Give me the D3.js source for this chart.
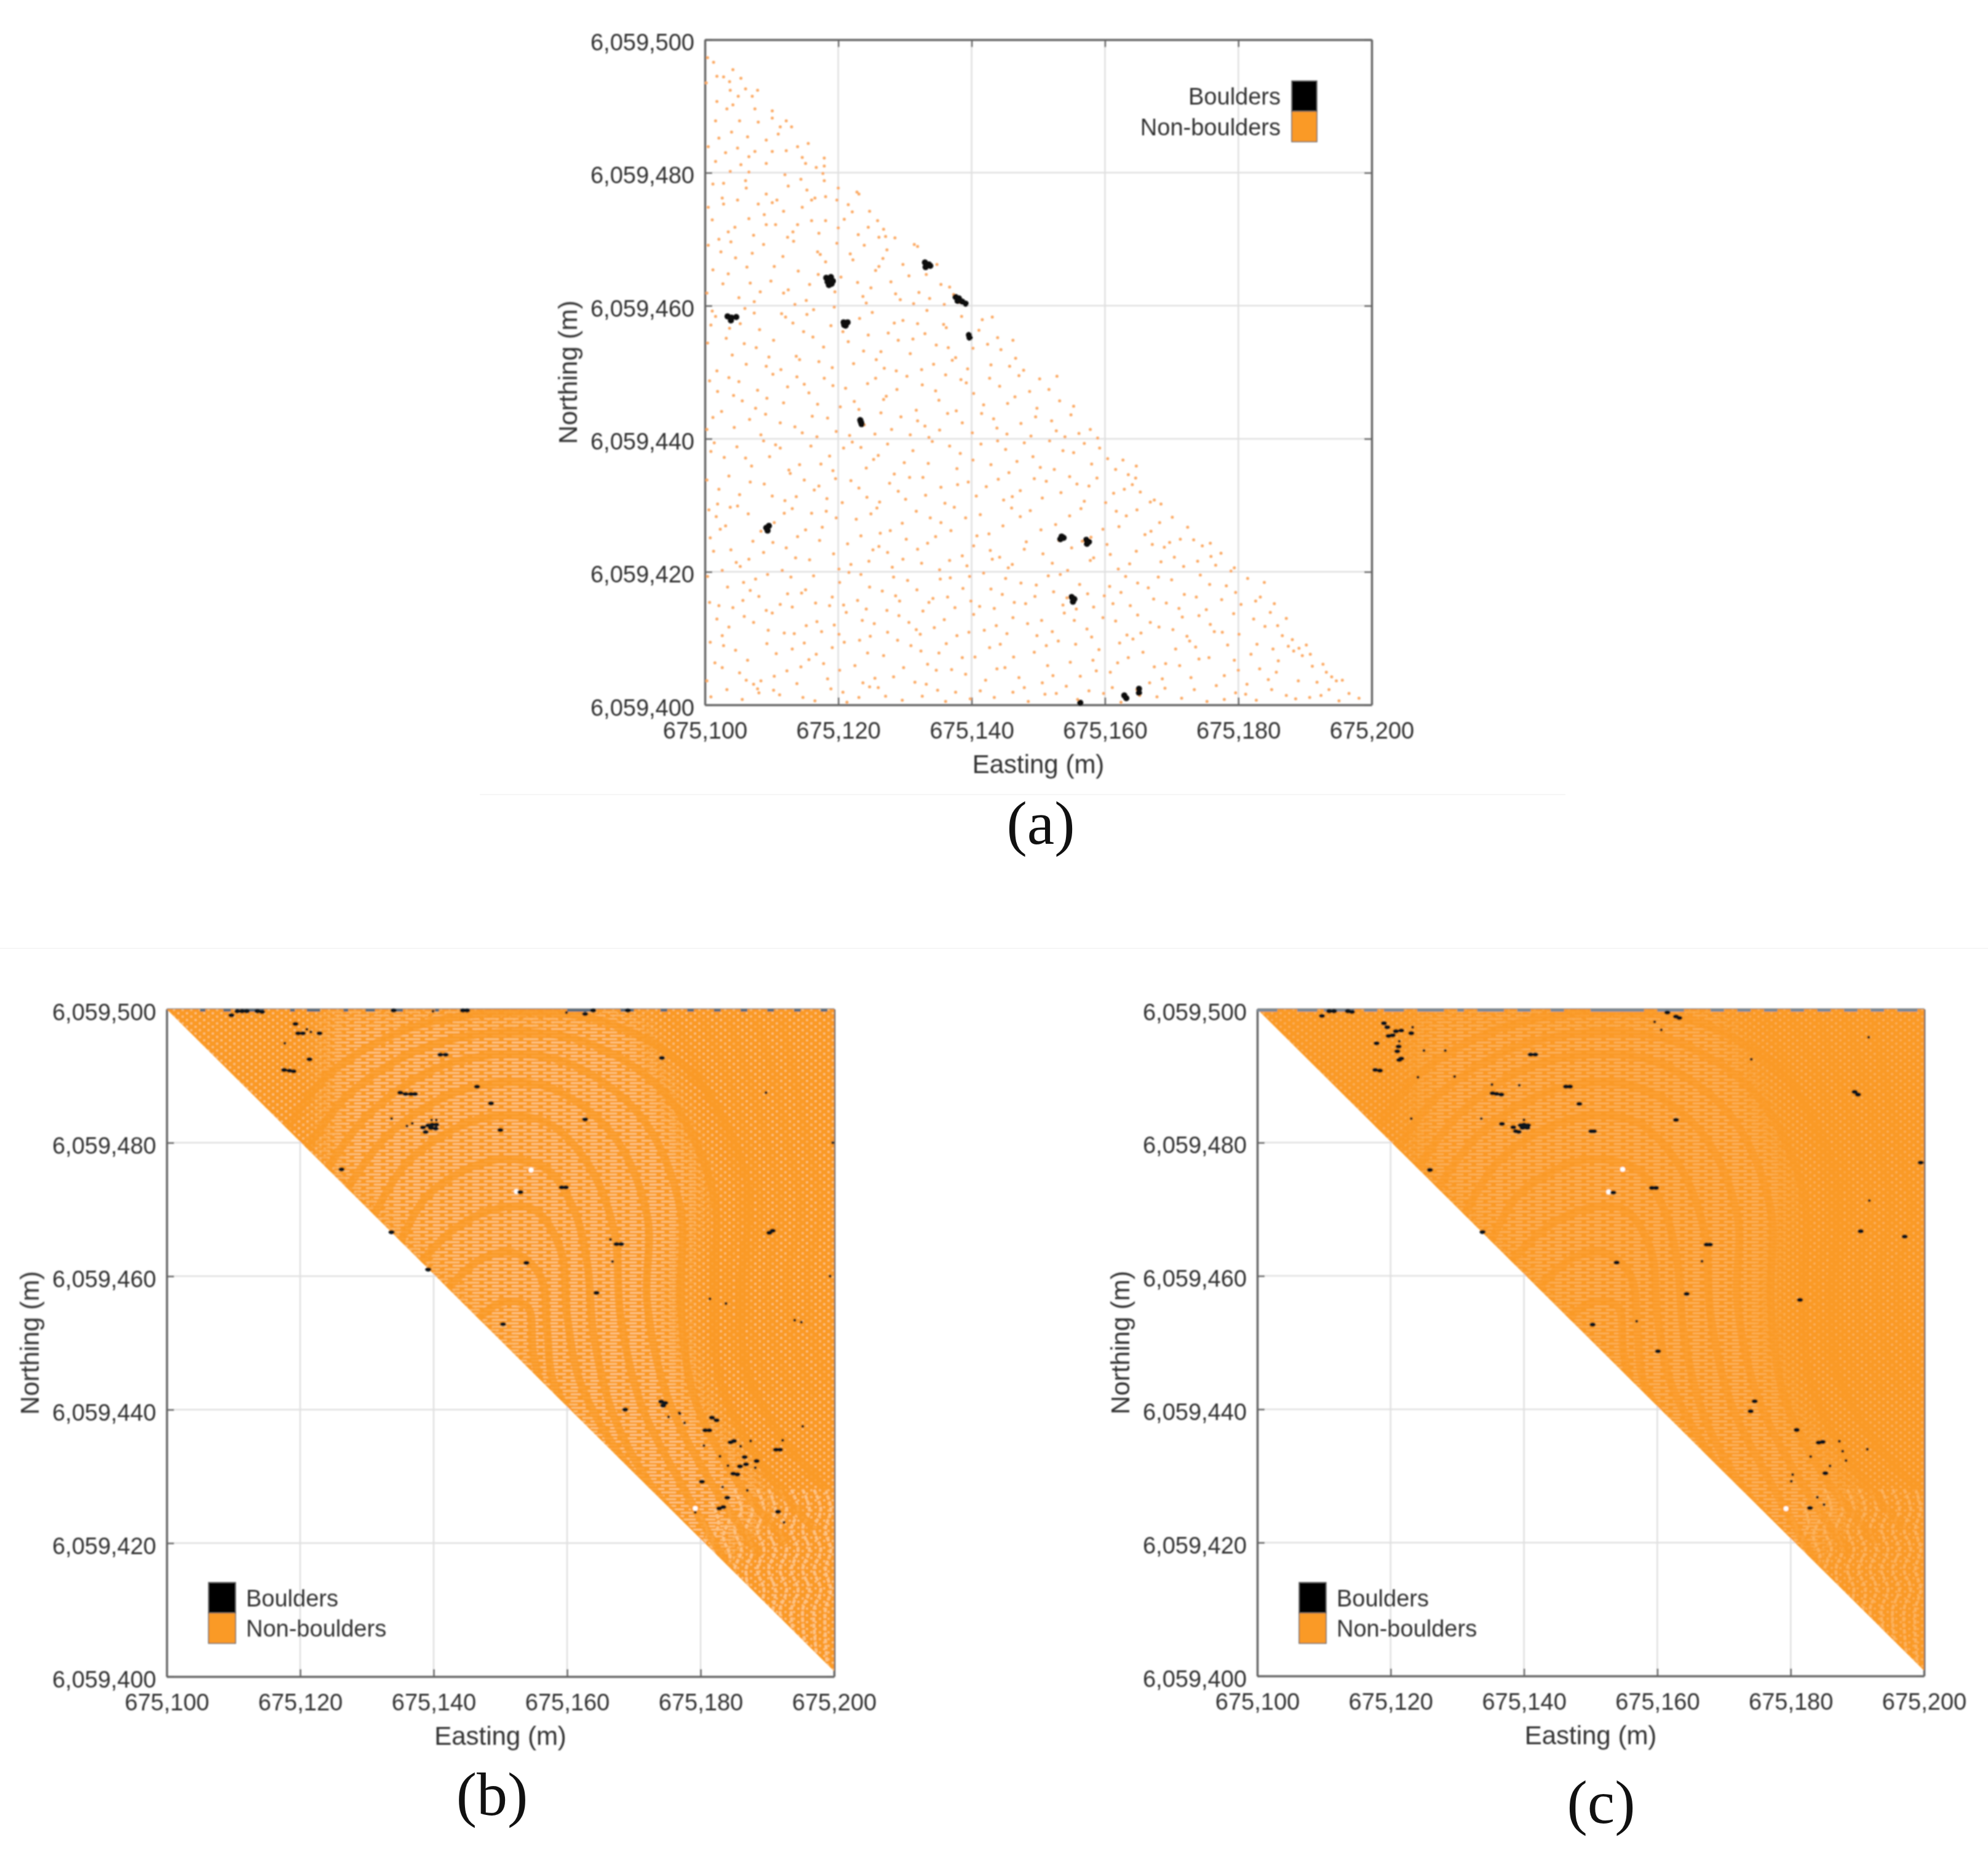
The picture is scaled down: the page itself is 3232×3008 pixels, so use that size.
<!DOCTYPE html>
<html>
<head>
<meta charset="utf-8">
<script src="https://cdnjs.cloudflare.com/ajax/libs/d3/7.8.5/d3.min.js"></script>
<style>
    html, body { margin: 0; background: #fff; }
    text { font-family: "Liberation Sans", Arial, sans-serif; fill: #333; }
    .panel-label { font-family: "Liberation Serif", serif; fill: #111; }
</style>
</head>
<body>
<svg id="chart" width="3232" height="3008"></svg>
<script>
// Axis values
const eastingBase = 675100;
const northingBase = 6059400;
const eastingTicks = [675100, 675120, 675140, 675160, 675180, 675200];
const northingTicks = [6059400, 6059420, 6059440, 6059460, 6059480, 6059500];
const legendLabels = ["Boulders", "Non-boulders"];
const panelLabels = ["(a)", "(b)", "(c)"];

// All points below are metres from the lower left corner: east, north, east, north...
// Panel (a) is a hand read subset of the sparse samples.
const nonBouldersA = [
    0.4,97.3, 1.3,96.6, 4.2,95.5, 1.8,94.5, 2.8,94.4, 5.4,94.2, 0.2,93.5, 3.7,93.7, 3.8,92.4, 6.1,92.6, 7.9,92.4, 7.1,91.5, 5,91.5, 1.8,90.7, 4.2,90.2,
    3.3,89.6, 7.5,89.6, 10.1,89.3, 1.6,87.8, 5.2,87.8, 8,87.6, 10.1,88.2, 12.2,87.8, 11.3,86.9, 13,86.9, 4,86.1, 6.4,85.4, 9.2,84.9, 0.5,83.9, 15.5,84.4, 13.9,83.9, 4.9,83.7, 7.5,83.2, 10.1,83.2, 12.2,83.3, 17.9,82.2, 1.6,81.7, 9.2,81.4, 5.4,81.2, 15.1,81.4, 16.7,80.8, 17.9,81, 3.8,80.2, 6.6,80.1, 2.1,85.2, 11,85.8, 3.1,83, 6.6,82.4, 14.6,82.3,
    12,79.7, 17.7,79.9, 17.9,78.8, 14.4,79, 2.8,78.4, 1.2,78.3, 6.2,77.7, 12.5,78, 20,77.7, 22.8,77.1, 9.2,76.8, 2.6,76.2, 16,75.9, 10.8,75.9, 0.5,74.8, 2.8,75.3, 4.9,75.9, 8,75.3, 10.1,75.5, 14.6,74.8, 16.5,76.2, 18.1,76.4, 19.8,75.9, 23.1,76.8, 24.7,74.2, 25.9,72.8, 20,71.7, 24.5,71.8, 26.8,71.5, 28.5,70.2, 27.1,70.4, 18.1,72.8, 16,72.8, 13.9,72.2, 13.2,71.1, 9.2,72.2, 10.6,72.2, 4.5,71.8, 3.5,71.1, 2.1,70, 6.6,73.1, 8.9,73.7, 20.9,73, 23,70.7, 1.1,72.9, 6.1,78.8, 21.5,75.2, 15.3,77.4, 11.8,74.2, 7.3,70.6, 12.4,70.3, 17.1,70.9, 22.1,74.1, 26.1,70.3,
    0.5,69.1, 3.9,69.6, 4.6,67.2, 8.8,69.2, 6.3,65.8, 1.2,65.4, 11.7,67.4, 13.3,69.7, 14,65.2, 9.9,63.7, 16.9,68.1, 17.3,67.7, 19.8,69.4, 20.4,64.3, 22.2,66.9, 23.9,69.1, 25.6,65.3, 26.1,65.9, 27.3,68.4, 29.7,66.2, 31.4,69.2, 31.9,68.9, 33.2,64.7, 35.4,63.2, 36.7,62.8, 0.3,61.9, 2.7,63.3, 5.1,61.2, 7.4,60.6, 11.8,61.9, 12.5,62.4, 15.2,60.8, 18.8,63.4, 19.5,62.1, 23.7,61.4, 24.2,60.4, 27.9,63.6, 29.3,60.9, 32.1,62, 33.7,61.1, 38.1,60.5, 35.9,60.2, 28.6,61.8, 6.8,63.4, 17,64.7,
    1.1,59.2, 1.6,58.4, 5.3,57.3, 6,59.6, 8.2,56.4, 11.5,58.8, 12.1,58.3, 14.8,56.1, 16.3,59.4, 18.9,57, 19.4,59.8, 23.2,58.1, 24.5,55.6, 25.1,59, 28.4,57.4, 29.7,57.8, 31.2,55, 33.3,59.3, 35.8,57.2, 36.2,56.7, 38.5,58.4, 41.1,56.3, 41.6,57.9, 43.9,55.2, 0.4,54.4, 3.2,55.1, 4.1,52.6, 7.7,53.7, 9.2,50.9, 10.3,54.8, 13.7,52.4, 14.2,51.9, 17.8,53.8, 21.5,54.6, 22.3,51.3, 26.4,53.1, 26.9,50.6, 30.8,52.8, 32.5,50.4, 34.7,54.1, 37.1,51.8, 37.6,52.2, 40.2,53.6, 42.9,51.1, 44.4,53.4, 46.6,52.1, 47.8,50.3, 1.8,50.2, 6.2,51.2, 19.1,50.7, 29,54.8, 39.4,50.5, 16.2,55.3, 45.7,50.9,
    0.7,48.7, 3.6,49.2, 4.3,46.5, 7.9,47.3, 10.2,49.7, 11.8,45.4, 12.4,47.8, 15.6,46.9, 17.9,49.1, 20.3,44.8, 21.1,47.6, 24.4,48.3, 26.8,45.9, 27.2,46.4, 30.3,49.4, 31.7,44.3, 34.6,47.2, 35.1,45.8, 38.4,48.9, 39.2,48.4, 41.8,45.1, 44.2,47.9, 46.5,46.3, 47.1,49.5, 49.8,44.6, 51.6,47.4, 53.2,45.7, 0.3,41.4, 2.5,44.1, 6.7,42.9, 8.4,40.6, 9.1,43.7, 13.5,41.8, 16.1,43.4, 16.8,40.3, 19.7,41.1, 23.2,42.6, 23.9,42.1, 25.5,40.7, 29.4,43.3, 33,41.9, 33.6,40.2, 36.4,43.8, 40.1,40.9, 43.3,43, 43.8,41.6, 47.4,42.3, 48.9,40.4, 52,42.7, 52.7,41.2, 54.9,43.6, 56.1,40.8, 57.8,41.4, 5.6,45.7, 14.9,48.2, 28,41.4, 37.7,44.2, 50.2,49, 22.4,45.6,
    1.4,39.4, 2.9,37.2, 4.8,38.8, 7,35.9, 10.6,39.1, 11.3,38.6, 14.2,36.1, 15.9,38.9, 18.7,37.4, 19.2,35.2, 22.1,39.5, 25.3,36.9, 26,37.5, 28.4,34.7, 31.2,38.2, 33.5,36.3, 34.1,39.6, 37.8,35.5, 38.3,37.8, 41.4,39.2, 42.9,36.1, 45.1,38.4, 45.6,34.9, 49.2,37.3, 51.7,39.7, 52.4,35.4, 55.3,37.9, 58,36.2, 59.2,38.6, 60.4,37, 62.7,36.8, 63.5,34.6, 0.3,33.8, 3.6,34.4, 5.2,31.6, 8.9,33.2, 12,30.7, 12.8,34.8, 16.4,32.3, 17.1,32.9, 20.6,30.4, 21.9,33.7, 24.3,31.2, 27.7,33.3, 30.1,30.9, 30.7,34.2, 35.4,32.7, 36,30.3, 39.5,33.5, 40.7,31.4, 44,33.9, 44.8,30.8, 47.3,32.2, 50.6,31.1, 51.2,33.6, 54.7,34.3, 56.9,30.6, 57.6,32.9, 61.3,31.8, 64.1,33.1, 64.6,34.1, 66.8,30.5, 67.4,30.8, 1.9,30.2, 9.7,37.3, 23.4,38.7, 47.9,39.4, 13.7,31.3, 65.3,32, 19.6,34, 55.8,33.2,
    0.6,29.3, 2.3,26.4, 3.1,26.9, 6.5,28.7, 7.2,24.6, 10.4,27.4, 13.1,29.5, 13.9,25.3, 17.6,26.7, 18.2,29.1, 21.4,24.2, 22.7,27.9, 25.8,29.6, 26.3,25.8, 29.6,27.3, 30.2,24.9, 33.8,28.1, 36.9,26.2, 37.4,29.7, 40.8,25.4, 41.3,28.6, 44.7,26.9, 48.2,24.5, 48.8,29.2, 52.6,27.1, 53.1,24.7, 56.4,29.5, 59.7,26.4, 60.3,24.1, 63.2,28.4, 66,25.6, 66.9,26.1, 70.1,28.2, 72.4,26.7, 73.3,24.8, 74.6,23.9, 1.3,23.1, 4.7,21.4, 5.3,20.8, 8.8,22.9, 11.6,20.2, 12.2,23.6, 15.7,21.8, 19.3,22.7, 20.1,20.4, 24.6,21.6, 27.4,22.9, 28.1,20.7, 31.9,23.4, 32.5,21.3, 35.2,20.3, 38.6,22.4, 39.3,20.9, 42.8,23.2, 45.5,20.6, 46.1,21.1, 50.7,22.7, 54.4,20.2, 55,23.6, 57.8,21.7, 58.3,22.1, 62,20.4, 64.7,23.1, 68.4,21.5, 68.9,23.7, 71.8,20.8, 75.9,22.3, 76.6,21, 78.9,20.1, 79.4,20.6, 9.6,26.2, 34.6,25.3, 47.3,28.3, 61.7,29.1, 16,28.8, 43.1,21.9, 25.2,23.3, 69.7,24.4, 3.8,29.7,
    0.4,19.3, 0.7,15.4, 3.4,17.7, 4.2,14.6, 7.6,18.9, 8.1,16.3, 11.3,15.1, 12.9,19.2, 14.5,16.8, 15.1,17.3, 18.7,14.9, 20.2,18.4, 22.9,15.7, 23.4,19.6, 26.6,17.1, 27.3,14.2, 30.4,18.7, 33.6,15.4, 34.2,16, 36.8,19.1, 38.7,17.5, 41.2,14.8, 41.8,19.8, 44.6,16.6, 47.4,18.3, 48.1,15.2, 51.5,19.4, 52.3,17, 55.7,14.4, 56.2,18.1, 59.9,16.4, 63.1,19.3, 63.8,14.9, 66.5,17.6, 69.2,15.3, 70,18.8, 73.7,16.2, 74.3,19.5, 77.5,15.8, 78.2,17.9, 81.4,19, 82.6,15.6, 83.3,16.2, 85.4,15.2, 1.8,12.9, 2.6,10.4, 5.9,13.3, 9.5,11.2, 10.1,13.8, 13.4,10.7, 16.8,12.5, 17.5,11, 21.2,13.9, 24.8,10.3, 25.4,12.2, 29.1,13.4, 31.7,11.3, 32.3,10.6, 35.9,12.8, 39.6,10.9, 40.3,13.6, 43.7,11.9, 46.2,13.1, 49.8,10.4, 50.5,12.7, 53.9,13.8, 57.3,11.4, 58,10.2, 61.6,12.6, 64.9,13.5, 65.4,10.8, 68.1,11.7, 71.6,13.2, 72.3,10.3, 75.8,12.1, 79.3,13.7, 80.1,10.6, 84,11.8, 87.2,13, 88.1,9.8, 86.6,10.4, 6.8,17.2, 19.4,12, 37.5,14.6, 60.7,17.8, 28.6,16.4, 45.1,19, 76.4,11, 54.3,16.1,
    0.8,9.4, 1.5,6.3, 4.6,8.2, 5.2,4.8, 7.3,3.1, 7.9,2.4, 8.4,3.6, 8.1,1.8, 10.7,7.7, 12.3,5.1, 14.9,9.3, 15.6,6.8, 18.4,3.9, 19.1,8.6, 22.5,5.9, 23.2,9.7, 24.7,2.7, 26.8,7.4, 28.3,4.2, 30.9,8.9, 31.5,3.4, 33.4,6.1, 36.2,9.2, 37,5.3, 37.6,1.9, 40.5,7.2, 42.1,3.7, 44.3,9.1, 45,5.6, 47.9,2.6, 49.4,7.9, 52.2,4.4, 53,9.6, 54.8,6.4, 57.6,2.1, 59.1,8.3, 60.8,4.9, 63.5,7.1, 64.2,9.9, 66.7,3.3, 67.4,5.7, 70.6,8.4, 72.9,4.1, 74.1,6.9, 76.7,2.9, 78.4,9, 80,5.2, 81.9,7.6, 84.5,3.8, 86,6.6, 87.5,8.8, 88.3,8.1, 89.1,8.5, 89.6,7.4, 90.2,9, 91.8,3.4, 93.2,4.9, 94,4.2, 94.7,3.6, 92.4,1.4, 96.6,1.7, 98.1,1, 0.3,3.6, 0.9,1.2, 3.3,2.3, 5.6,0.8, 11.2,1.5, 13.8,3.2, 16.5,0.6, 20.7,1.9, 21.3,0.4, 27.1,1.3, 29.6,0.7, 34.9,2.2, 39.8,0.9, 43.4,1.1, 48.5,0.5, 51,1.6, 55.9,0.8, 59.8,1.7, 62.4,0.4, 65.2,1.4, 69,2.5, 71.5,1, 75.3,0.5, 79.6,1.8, 82.7,0.7, 88.6,0.9, 90.7,1.1, 95.1,0.6, 17.8,6.2, 25.5,4, 35.1,7.8, 50.6,3.3, 61.9,6.3, 73.6,8.7, 83.2,5.4
];
const moreNonBouldersA = [
    2.4,68.1, 7.1,67.9, 10.4,65.9, 15.7,63.2, 21.8,67.8, 24.9,62.7, 30.6,64.5, 34.8,66.2, 3.5,64.8, 8.3,62.1, 13.5,60.2, 18.1,66.6, 22.9,63.5, 26.7,67.1, 31.3,60.3, 37.3,61.7, 0.9,57.1, 3.7,56.6, 7.4,58.9, 9.6,52.3, 13.2,57.4, 17.1,51.6, 20.7,56.1, 23.8,53.2, 27.5,55.9, 31.9,57.3, 34.3,51.2, 39.7,55.1, 43.1,58.3, 46.2,54.8, 5.9,54.3, 11.4,50.4, 15.3,58.7, 25.7,51.9, 28.7,50.2, 36.5,53.7, 42.4,54.2, 33,55.8,
    1.9,47.1, 5.1,48.6, 9.3,46.1, 13.8,49.3, 16.9,45.2, 19.2,48, 23.1,44.4, 25.6,49.1, 28.8,47.4, 32.6,48.1, 36.1,49.6, 40.3,46.8, 42.7,49.1, 45.4,45.3, 48.7,47.1, 52.8,49.4, 55.3,44.9, 1.2,43.2, 4.4,41.7, 7.6,44.6, 11.3,42.4, 14.6,40.9, 18.4,43.1, 21.7,40.5, 26.4,43.9, 30.8,40.6, 31.9,42.7, 35.2,41.3, 38.6,42.4, 41.5,43.8, 45.3,40.7, 49.6,43.3, 54,40.3, 58.9,40.1, 0.9,38.1, 6.1,37.1, 8.8,39.7, 12.6,35.3, 17.4,36.2, 20.8,38.6, 24.2,35.6, 27.4,39.2, 29.9,36.4, 32.7,34.2, 36.7,38.9, 40.2,36.8, 43.9,39.7, 46.8,36.6, 50.3,35.7, 53.7,38.2, 56.9,39.3, 61.6,35.4, 64.7,35.9, 2.1,32.4, 6.8,33.5, 10.1,31.4, 14.9,33.8, 18.3,31, 23.1,32.6, 26.2,30.5, 29,32.1, 33.1,31.5, 37.9,33.1, 42.2,32.8, 46.1,31.3, 49.4,34, 53.4,31.9, 58.8,34.1, 60.1,30.4, 62.9,32.4, 68.4,30.2,
    1.7,28.3, 4.9,29.9, 8.4,26.1, 11.9,28.8, 15.1,26.3, 19.7,28.1, 23.4,25.4, 24.9,28.7, 27.8,26.2, 31.7,29.1, 35.4,27.4, 39.1,28.1, 42.6,25.7, 46,29.6, 50.4,26.3, 54.7,28.4, 57.9,25.2, 62.1,26.8, 64.8,29.3, 68.2,27.4, 71.3,24.9, 75.8,24.3, 0.8,25.1, 3.9,23.3, 6.6,21.9, 10.2,24.4, 13.6,22.1, 17.2,24.7, 21.9,21.1, 26.1,23.8, 29.7,21.9, 33.4,24.3, 36.7,21.7, 40.3,23.9, 44.2,22.2, 47.9,23.4, 52.1,21.3, 56.6,24.6, 60.8,22.6, 63.7,21.2, 67.1,24.1, 70.4,22.2, 73.9,21.6, 77.4,22.8, 2.6,20.2, 5.8,18.4, 9.4,19.6, 12.4,16.7, 16.3,19.4, 19.1,16.2, 21.6,19.9, 24.7,17.7, 28.3,19.2, 31.8,17.3, 35.3,18.9, 39.7,19.3, 42.9,17.4, 46.4,15.4, 49.7,18, 53.3,19.6, 57.4,16.7, 61.2,15.2, 64.9,18.3, 68,19.2, 71.9,16.6, 75.7,18.1, 79.6,16.9, 83.9,18.4, 2.1,14.9, 5.7,15.7, 9.2,14.2, 13.1,14.7, 16.6,15.3, 20.8,15, 24.2,14.4, 29.2,15.6, 32.7,14.1, 36.4,16.2, 39.9,15.6, 43.4,14.5, 49.5,16.3, 53.7,15, 58.3,14.7, 62.4,16.9, 67.3,15.9, 71.1,14.5, 75.2,14.3, 80.4,15.1, 84.8,13.9, 3.6,11.7, 7.3,12.4, 11.9,10.8, 15.2,11.9, 20.1,10.6, 23.6,12.7, 27.4,10.9, 30.6,12.4, 34.4,11.6, 37.8,10.4, 41.9,11.2, 45.3,10.7, 48.4,12.2, 52.1,11, 55.4,12.7, 59.7,13.1, 63.3,10.5, 66.8,12.4, 70.2,11.3, 74.1,13.4, 77.6,10.9, 82.3,12.9, 85.9,11.9,
    2.8,8.9, 6.4,6.7, 9.3,9.2, 13.1,8.4, 16.7,7.6, 20.9,9.4, 24.4,7.8, 28.9,9.7, 32.4,8.1, 34.7,5.2, 38.6,7.1, 42.7,8.6, 46.3,7.2, 51.2,8.9, 55.6,9.1, 58.2,6.7, 62.2,9.3, 65.7,7.9, 69.1,6.2, 72.7,9.6, 75.6,7.1, 79.4,6.7, 82.8,9.1, 85.2,8.4, 90.8,7.6, 91.1,5.8, 2.6,5.6, 6.2,3.7, 10.4,4.3, 14.4,5.7, 20.2,5.2, 23.7,3.3, 29.8,5.6, 33.2,3.1, 39.1,4.6, 43.8,5.4, 47.1,4.1, 51.4,5.9, 56.3,4.3, 58.7,5.1, 64.8,2.3, 68.6,3.9, 71.2,5.9, 77.9,4.4, 81.3,3.1, 85.7,4.9, 89,3.6, 92.7,6.1, 95.6,3.7, 10.3,2.2, 14.7,1.1, 18.9,2.4, 23.1,1.1, 26,2.6, 32.6,1.3, 36.1,0.5, 41.3,2.1, 46.2,1.9, 52.7,1.7, 54.2,2.8, 61.1,2.6, 67.8,1.2, 73.4,2.3, 77.9,0.8, 81.1,1.6, 85,2.3, 87.2,1.4, 93.6,2.3
];

// Boulder blobs of panel (a), each blob a handful of returns
const bouldersA = [
    33,66.5, 33.6,66.2, 33.1,65.8, 33.8,66,
    18.2,64.2, 18.9,64.3, 18.4,63.6, 19.2,63.7, 18.6,63.1, 19,63.3,
    37.6,61.3, 38.1,61.1, 38.6,60.6, 39.1,60.3, 37.9,60.7,
    3.4,58.4, 4,58.2, 4.7,58.3, 3.9,57.8,
    20.8,57.5, 21.4,57.5, 21.1,57, 20.9,57.1,
    39.6,55.6, 39.7,55.2,
    23.3,42.8, 23.5,42.2, 23.4,42.5,
    9.2,26.6, 9.6,26.9, 9.4,26.2,
    53.5,25.3, 53.8,25.1, 53.3,24.9,
    57.2,24.8, 57.6,24.5, 57.3,24.2,
    55,16.2, 55.4,15.9, 55.2,15.5,
    65.1,2.4, 65.1,1.8,
    62.9,1.4, 63.2,1,
    56.3,0.3
];

// Panel (b) boulders
const bouldersB = [
    9.7,99.1, 10.6,99.7, 11.3,99.7, 12,99.7, 13.6,99.7, 14.3,99.6, 19.3,97.8, 19.7,96.4, 20.4,96.4, 22.9,96.4, 21.4,92.5, 17.6,90.9, 18.4,90.8, 19,90.7,
    41,93.2, 41.8,93.2, 35,87.5, 35.8,87.3, 36.6,87.3, 37.2,87.3, 46.5,88.4, 48.6,85.9, 39.2,82.6, 39.8,82.7, 40.4,82.7, 39.6,82.2, 40.3,82.1, 38.4,82.3, 38.8,81.6,
    26.2,76, 33.7,66.6, 39.2,61, 62.7,83.5, 50,81.9, 74.2,92.7, 59.2,73.3, 59.8,73.3, 53,72.6, 67.4,64.8, 68.1,64.8, 90.3,66.5, 90.8,66.8, 53.9,62, 64.4,57.5, 50.4,52.8,
    62.7,99.3, 63.9,99.8, 69.1,99.8, 34,99.8, 44.4,99.8, 45,99.8, 74.1,41.2, 74.7,41, 74.4,40.6, 68.7,40, 81.7,38.8, 82.4,38.4, 80.7,36.9, 81.3,36.9, 84.5,35.1, 85,35.3, 91.3,34, 91.9,34, 86.6,32.9, 88.4,32.3, 86.8,31.8, 85.9,31.5, 84.9,30.4, 85.5,30.3, 80.2,29.2, 84,26.8, 82.8,25.2, 83.4,25.4, 91.6,24.7
];
const smallBouldersB = [
    21,97, 17.7,94.9, 21.6,96.6, 33.7,83.6, 36,82.5, 36.8,82.9, 39.7,83.4, 40.4,83.4, 89.8,87.5, 66.5,65.5, 66.8,62.2, 81.4,56.6, 83.8,55.9, 94.1,53.4, 95.1,53.1, 76.8,39.5, 75.2,38.9, 76.9,39.4, 77.6,38, 86,34.5, 87.5,35.3, 92.3,35.4, 82.9,33, 84.1,31.6, 88.2,31.3, 80.5,34.6, 83.3,28.4, 87,27.9, 79.2,24.6, 92.5,23.1, 95.3,37.5, 59.9,99.5, 39.9,99.7, 99.8,80, 99.4,60
];

// Panel (c) boulders
const bouldersC = [
    9.7,99, 10.8,99.7, 11.5,99.7, 13.6,99.7, 14.2,99.6, 19,97.9, 19.5,97.3, 20.8,96.7, 21.6,96.8, 19.7,96, 20.3,96.1, 23.1,96.4, 17.9,94.9, 21,93.7, 21.2,94.4, 21.3,92.4, 21.6,92.6, 17.7,90.9, 18.4,90.8,
    41,93.2, 41.7,93.2, 35.3,87.4, 35.9,87.3, 36.6,87.2, 46.3,88.4, 46.9,88.4, 48.3,85.8, 62.8,83.4, 36.7,82.8, 39.5,82.6, 40,82.7, 40.6,82.6, 39.8,82.2, 40.5,82.2, 38.4,82.3, 38.8,81.7, 39.2,81.6,
    50.1,81.7, 50.5,81.7, 25.9,75.9, 59.2,73.2, 59.8,73.2, 53.4,72.5, 33.8,66.6, 53.9,62, 67.4,64.7, 67.9,64.7, 64.4,57.3, 50.3,52.7, 60.1,48.7, 89.6,87.6, 90.1,87.2, 90.5,66.7, 97.1,65.9, 61.5,99.5, 62.8,98.9, 63.3,98.7, 99.5,77, 81.4,56.4,
    74.6,41.2, 74,39.7, 80.9,36.9, 84.2,35, 84.8,35.1, 85.2,30.4, 82.9,25.2
];
const smallBouldersC = [
    23.3,97.3, 21.3,95.2, 25,93.8, 28.2,93.8, 24.1,89.8, 29.6,89.9, 35.2,88.7, 39.3,88.6, 23.1,83.6, 33.6,83.6, 40,83.4, 56.9,53.2, 59.6,98.1, 60.6,96.9, 74.1,92.5, 91.7,95.8, 91.8,71.3, 66.7,62.2, 87.3,35.2, 87.8,33.7, 91.5,34, 83,32.9, 88.3,32.3, 85.9,31.5, 80.3,30.2, 80.1,29.2, 84,26.8, 85,25.7
];

// White gaps in the clouds of panels (b) and (c)
const gapsB = [54.6,75.9, 52.4,72.7, 79.2,25.2];
const gapsC = [54.8,76, 52.7,72.6, 79.3,25.1];

// Grey returns along the top edge, east start and end in metres
const topEdgeB = [[5,5.8],[8.5,9.6],[11,14.6],[18.5,19.2],[21,23],[26.5,27.2],[29.8,31.2],[34,35.4],[40.2,40.8],[44,45.4],[60,64],[68,70],[74,75],[78,79],[82,83],[86,87],[90,91],[94,95],[98,99]];
const topEdgeC = [[0,3],[6,9],[10,14.6],[16,18],[19,22],[24,28],[30,31],[33,37],[39,41],[44,46],[50,58],[60,64],[68,70],[72,74],[76,78],[80,82],[84,86],[88,90],[92,94],[96,99]];

// The orange swath of panels (b) and (c), corners in metres
const cloudCorners = [[0, 100], [100, 100], [100, 0.8]];

// Outlines of the two textures seen in the swath
const streakZone = [[24,100],[70,100],[80,74],[76,56],[80,40],[90,26],[80,14],[58,40],[40,60],[24,76]];

// Solid orange moire rings that cut through the texture
const moireRings = [
    [[18,82],[24,90],[36,97],[50,99.5],[66,98],[79,90],[87,74],[86,58],[87,46],[92,36],[99,28]],
    [[21,79],[27,87],[38,94],[50,96.5],[63,95],[75,87],[82,72],[82,58],[83,44],[89,32],[97,22]],
    [[24,76],[30,84],[40,91],[50,93.2],[60,92],[71,84],[77,70],[77,56],[79,42],[85,30],[93,20]],
    [[27,73],[33,81],[42,87],[50,89],[58,88],[67,81],[72,69],[72,56],[75,42],[81,30],[89,18]],
    [[31,69],[36,77],[44,82.5],[50,84],[57,83],[63,77],[67,67],[68,54],[71,41],[77,29],[85,15]],
    [[35,65],[39,72],[46,76.5],[51,77.5],[57,76],[61,70],[63,62],[64,51],[67,39],[73,28],[81,19]],
    [[38,62],[43,67],[49,70],[55,70],[59,64],[60,54],[62,44],[68,33],[76,23]],
    [[42,58],[47,62.5],[52,63.5],[56,60],[57,52],[58,44],[63,36],[71,27]],
    [[46,53],[50,56],[54,55.5],[55,48],[58,39],[66,31]]
];
// Plain columns between the dots on the right of the swath
const moireColumns = [
    [[76,99],[80,90],[84,80],[86,70],[84,60],[85,50],[88,42]],
    [[80,99],[84,90],[87,80],[89,70],[87,60],[88,50],[91,42]],
    [[84,99],[87,90],[90,80],[92,70],[90,60],[91,50],[94,42]],
    [[88,99],[91,90],[93,80],[95,70],[93,60],[94,50],[97,42]],
    [[92,99],[94,90],[96,80],[98,70],[96,60],[97,50],[99,44]]
];
// Wavy pale columns low on the right of the swath
const moireRipples = [
    [[80,24],[81,21.5],[80,19]],
    [[81.7,26],[82.7,23],[81.7,20],[82.7,17]],
    [[83.4,27],[84.4,24],[83.4,21],[84.4,18],[83.8,15.5]],
    [[85.1,28],[86.1,25],[85.1,22],[86.1,19],[85.1,16],[85.7,13.5]],
    [[86.8,28],[87.8,25],[86.8,22],[87.8,19],[86.8,16],[87.4,12]],
    [[88.5,28],[89.5,25],[88.5,22],[89.5,19],[88.5,16],[89.5,13],[89,10.5]],
    [[90.2,28],[91.2,25],[90.2,22],[91.2,19],[90.2,16],[91.2,13],[90.6,9]],
    [[91.9,28],[92.9,25],[91.9,22],[92.9,19],[91.9,16],[92.9,13],[91.9,10],[92.4,7.2]],
    [[93.6,28],[94.6,25],[93.6,22],[94.6,19],[93.6,16],[94.6,13],[93.6,10],[94.1,5.5]],
    [[95.3,28],[96.3,25],[95.3,22],[96.3,19],[95.3,16],[96.3,13],[95.3,10],[95.8,3.8]],
    [[97,28],[98,25],[97,22],[98,19],[97,16],[98,13],[97,10],[97.5,2.2]],
    [[98.7,28],[99.5,25],[98.7,22],[99.5,19],[98.7,16],[99.5,13],[98.7,10],[99,1.2]]
];

const swathOrange = "#fa9a26";
const toPairs = flat => d3.range(0, flat.length, 2).map(i => [flat[i], flat[i + 1]]);

const svg = d3.select("#chart");
const defs = svg.append("defs");

defs.append("filter")
    .attr("id", "soft")
    .attr("filterUnits", "userSpaceOnUse")
    .attr("x", 0).attr("y", 0).attr("width", 3232).attr("height", 3008)
    .append("feGaussianBlur").attr("stdDeviation", 0.9);

// Wide blur for the edge of the streak zone, so the textures melt into each other
defs.append("filter")
    .attr("id", "feather")
    .attr("filterUnits", "userSpaceOnUse")
    .attr("x", 0).attr("y", 0).attr("width", 3232).attr("height", 3008)
    .append("feGaussianBlur").attr("stdDeviation", 26);

// Textures only, they carry no values
const streaks = defs.append("pattern").attr("id", "streaks")
    .attr("patternUnits", "userSpaceOnUse").attr("width", 32).attr("height", 11);
[[0, 0, 24], [19, 5.5, 24], [-13, 5.5, 24]].forEach(d => {
    streaks.append("rect").attr("x", d[0]).attr("y", d[1]).attr("width", d[2]).attr("height", 2.2).attr("fill", "#fdcf9c");
});

const speckle = defs.append("pattern").attr("id", "speckle")
    .attr("patternUnits", "userSpaceOnUse").attr("width", 14).attr("height", 11);
speckle.append("circle").attr("cx", 3).attr("cy", 3).attr("r", 1.8).attr("fill", "#fdd3a4");
speckle.append("circle").attr("cx", 10).attr("cy", 8.5).attr("r", 1.8).attr("fill", "#fdd3a4");

const panels = [
    { id: "a", left: 1146, right: 2230, top: 64.5, bottom: 1146, label: panelLabels[0], labelX: 1692, labelY: 1372 },
    { id: "b", left: 271, right: 1356, top: 1641, bottom: 2726, label: panelLabels[1], labelX: 800, labelY: 2951 },
    { id: "c", left: 2044, right: 3128, top: 1641, bottom: 2725, label: panelLabels[2], labelX: 2603, labelY: 2964 }
];

// Faint rules left over in the figure
svg.append("line").attr("x1", 780).attr("x2", 2545).attr("y1", 1292).attr("y2", 1292).attr("stroke", "#f6f6f6").attr("stroke-width", 2);
svg.append("line").attr("x1", 0).attr("x2", 3232).attr("y1", 1542).attr("y2", 1542).attr("stroke", "#f6f6f6").attr("stroke-width", 2);

panels.forEach(drawPanel);

function drawPanel(p) {
    const g = svg.append("g").attr("filter", "url(#soft)");

    const x = d3.scaleLinear().domain([eastingBase, eastingBase + 100]).range([p.left, p.right]);
    const y = d3.scaleLinear().domain([northingBase, northingBase + 100]).range([p.bottom, p.top]);
    const px = d => x(eastingBase + d[0]);
    const py = d => y(northingBase + d[1]);
    const path = d3.line().x(px).y(py).curve(d3.curveCatmullRom);

    // Grid
    g.append("g").selectAll("line").data(eastingTicks.slice(1, -1)).enter().append("line")
        .attr("x1", d => x(d)).attr("x2", d => x(d)).attr("y1", p.top).attr("y2", p.bottom)
        .attr("stroke", "#e0e0e0").attr("stroke-width", 2.5);
    g.append("g").selectAll("line").data(northingTicks.slice(1, -1)).enter().append("line")
        .attr("y1", d => y(d)).attr("y2", d => y(d)).attr("x1", p.left).attr("x2", p.right)
        .attr("stroke", "#e0e0e0").attr("stroke-width", 2.5);

    // Axes
    const styleAxis = sel => {
        sel.selectAll("path").attr("stroke", "#666").attr("stroke-width", 3.5);
        sel.selectAll("line").attr("stroke", "#666").attr("stroke-width", 2.5);
    };
    g.append("g").attr("transform", `translate(0,${p.bottom})`)
        .call(d3.axisBottom(x).tickValues(eastingTicks).tickFormat(d3.format(",")).tickSize(-12).tickSizeOuter(0).tickPadding(28))
        .call(styleAxis)
        .call(s => s.selectAll("text").attr("font-size", 38).attr("font-family", null));
    g.append("g").attr("transform", `translate(${p.left},0)`)
        .call(d3.axisLeft(y).tickValues(northingTicks).tickFormat(d3.format(",")).tickSize(-12).tickSizeOuter(0).tickPadding(17))
        .call(styleAxis)
        .call(s => s.selectAll("text").attr("font-size", 38).attr("dy", "0.45em").attr("font-family", null));
    g.append("g").attr("transform", `translate(0,${p.top})`)
        .call(d3.axisTop(x).tickValues(eastingTicks).tickFormat("").tickSize(-12).tickSizeOuter(0))
        .call(styleAxis);
    g.append("g").attr("transform", `translate(${p.right},0)`)
        .call(d3.axisRight(y).tickValues(northingTicks).tickFormat("").tickSize(-12).tickSizeOuter(0))
        .call(styleAxis);

    g.append("text")
        .attr("x", (p.left + p.right) / 2).attr("y", p.bottom + 111)
        .attr("text-anchor", "middle").attr("font-size", 42)
        .text("Easting (m)");
    g.append("text")
        .attr("transform", `translate(${p.left - 208},${(p.top + p.bottom) / 2}) rotate(-90)`)
        .attr("text-anchor", "middle").attr("font-size", 42)
        .text("Northing (m)");

    if (p.id === "a") {
        g.append("g").selectAll("circle").data(toPairs(nonBouldersA.concat(moreNonBouldersA))).enter().append("circle")
            .attr("cx", px).attr("cy", py).attr("r", 2.5).attr("fill", "#fcab66");
        g.append("g").selectAll("circle").data(toPairs(bouldersA)).enter().append("circle")
            .attr("cx", px).attr("cy", py).attr("r", 5).attr("fill", "#0c0c0c");
    } else {
        drawCloud(g, p, px, py, path);
    }

    drawLegend(g, p);

    svg.append("text").attr("class", "panel-label")
        .attr("x", p.labelX).attr("y", p.labelY)
        .attr("text-anchor", "middle").attr("font-size", 100)
        .text(p.label);
}

function drawCloud(g, p, px, py, path) {
    const isB = p.id === "b";
    const outlineOf = pts => "M" + pts.map(d => [px(d), py(d)].join(",")).join("L") + "Z";
    const outline = outlineOf(cloudCorners);

    defs.append("clipPath").attr("id", "cloud-" + p.id).append("path").attr("d", outline);
    defs.append("mask").attr("id", "streak-mask-" + p.id)
        .attr("maskUnits", "userSpaceOnUse")
        .attr("x", 0).attr("y", 0).attr("width", 3232).attr("height", 3008)
        .append("path").attr("d", outlineOf(streakZone)).attr("fill", "#fff").attr("filter", "url(#feather)");

    g.append("path").attr("d", outline).attr("fill", swathOrange);

    // Panel (c) has the same pattern but much weaker
    const bands = g.append("g").attr("clip-path", `url(#cloud-${p.id})`);
    const texture = bands.append("g").attr("opacity", isB ? 0.95 : 0.55);
    texture.append("path").attr("d", outline).attr("fill", "url(#speckle)").attr("opacity", 0.85);
    const zone = texture.append("g").attr("mask", `url(#streak-mask-${p.id})`);
    zone.append("path").attr("d", outline).attr("fill", swathOrange);
    zone.append("path").attr("d", outline).attr("fill", "url(#streaks)");
    texture.append("g").selectAll("path").data(moireColumns).enter().append("path")
        .attr("d", path).attr("fill", "none")
        .attr("stroke", swathOrange).attr("stroke-width", 12).attr("opacity", 0.4);
    texture.append("g").selectAll("path").data(moireRipples).enter().append("path")
        .attr("d", path).attr("fill", "none")
        .attr("stroke", "#fdc68a").attr("stroke-width", 4.5).attr("stroke-dasharray", "7 3");

    bands.append("g").selectAll("path").data(moireRings).enter().append("path")
        .attr("d", path).attr("fill", "none")
        .attr("stroke", swathOrange).attr("stroke-width", 13).attr("opacity", isB ? 0.75 : 0.65);

    // Grey edge returns
    g.append("g").selectAll("line").data(isB ? topEdgeB : topEdgeC).enter().append("line")
        .attr("x1", d => px([d[0], 100])).attr("x2", d => px([d[1], 100]))
        .attr("y1", p.top + 2).attr("y2", p.top + 2)
        .attr("stroke", isB ? "#5d6f80" : "#7f8c99").attr("stroke-width", 4);

    g.append("g").selectAll("circle").data(toPairs(isB ? gapsB : gapsC)).enter().append("circle")
        .attr("cx", px).attr("cy", py).attr("r", 4).attr("fill", "#fff");
    g.append("g").selectAll("ellipse").data(toPairs(isB ? bouldersB : bouldersC)).enter().append("ellipse")
        .attr("cx", px).attr("cy", py).attr("rx", 5).attr("ry", 3.4).attr("fill", "#10161c");
    g.append("g").selectAll("circle").data(toPairs(isB ? smallBouldersB : smallBouldersC)).enter().append("circle")
        .attr("cx", px).attr("cy", py).attr("r", 2.4).attr("fill", "#2a2420");
}

function drawLegend(g, p) {
    const swatchColors = ["#000", swathOrange];
    const onLeft = p.id !== "a";
    const boxX = onLeft ? p.left + 68 : p.left + 954;
    const boxY = onLeft ? p.top + 932 : p.top + 67;
    const boxW = onLeft ? 44 : 41;
    const rowH = 49.5;

    legendLabels.forEach((label, i) => {
        g.append("rect")
            .attr("x", boxX).attr("y", boxY + i * rowH)
            .attr("width", boxW).attr("height", rowH)
            .attr("fill", swatchColors[i]).attr("stroke", "#666").attr("stroke-width", 1.5);
        g.append("text")
            .attr("x", onLeft ? boxX + boxW + 17 : boxX - 18)
            .attr("y", boxY + (i + 0.5) * rowH + 14)
            .attr("text-anchor", onLeft ? "start" : "end")
            .attr("font-size", 38)
            .text(label);
    });
}
</script>
</body>
</html>
